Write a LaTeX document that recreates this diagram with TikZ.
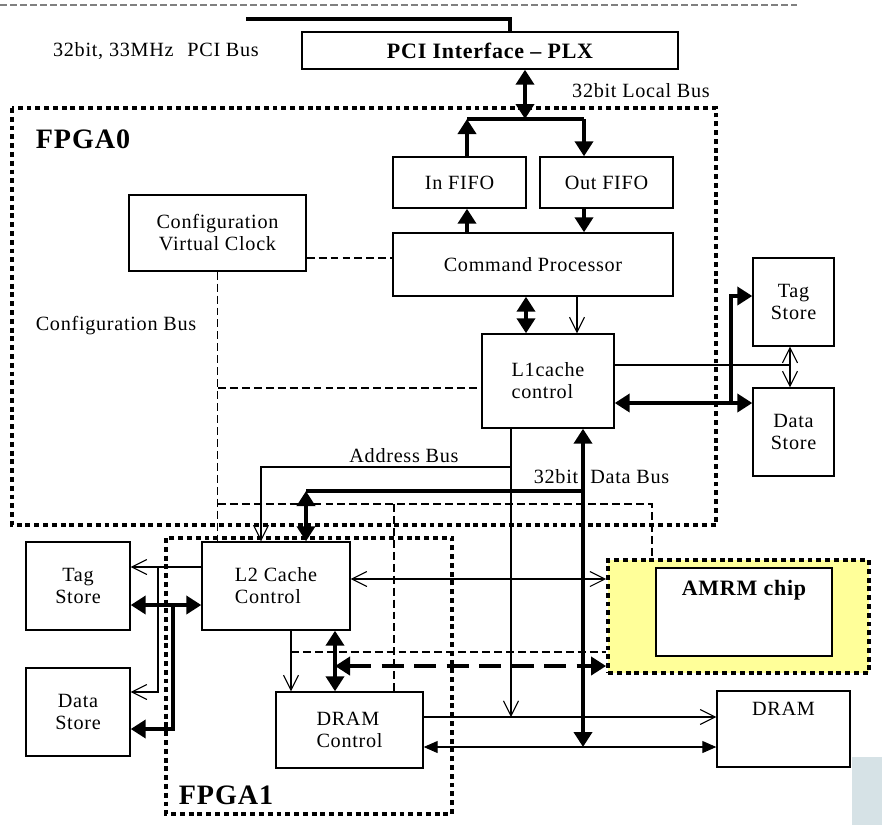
\documentclass[tikz,border=0pt]{standalone}
\usepackage{fontspec}
\setmainfont{Liberation Serif}[LetterSpace=3.5]
\usetikzlibrary{arrows.meta,calc}
\definecolor{amrmyellow}{RGB}{255,255,153}
\definecolor{scanpatch}{RGB}{214,226,230}
\tikzset{
  tri/.tip={Triangle[length=0.3cm,width=0.36cm]},
  barb/.tip={Straight Barb[length=0.3cm,width=0.3cm]},
  stri/.tip={Triangle[length=0.28cm,width=0.24cm]}
}
\begin{document}
\begin{tikzpicture}[x=0.02cm, y=-0.02cm,
  font=\fontsize{11.5}{12.5}\selectfont,
  box/.style={draw, line width=0.8pt, align=center, inner sep=1pt},
  wire/.style={line width=0.6pt},
  cfg/.style={line width=0.6pt, dash pattern=on 4.5pt off 2.3pt},
  bus/.style={line width=2.2pt},
  dashbus/.style={line width=2.2pt, dash pattern=on 12.5pt off 6pt},
  fpga/.style={line width=2.2pt, dash pattern=on 2.8pt off 2.2pt}]
\useasboundingbox (0,0) rectangle (882,826);

\draw[gray, line width=0.6pt, dash pattern=on 4pt off 1.7pt] (0,5) -- (797,5);
\fill[scanpatch] (852,757) rectangle (882,825);

\draw[fpga] (12,108) rectangle (716,525);
\draw[fpga] (166,538) rectangle (452,814);
\node[font=\bfseries\fontsize{16}{16}\selectfont] (fpga0) at (83,139) {FPGA0};
\node[font=\bfseries\fontsize{16}{16}\selectfont] (fpga1) at (226,795) {FPGA1};

\node[box, minimum width=7.52cm, minimum height=0.74cm, font=\bfseries\fontsize{12.5}{13}\selectfont] (pci) at (490,50.5) {PCI Interface -- PLX};
\node[box, minimum width=2.66cm, minimum height=1.02cm] (infifo) at (459.5,182.5) {In FIFO};
\node[box, minimum width=2.66cm, minimum height=1.02cm] (outfifo) at (606.5,182.5) {Out FIFO};
\node[box, minimum width=5.6cm, minimum height=1.26cm] (cmdproc) at (533,264.5) {Command Processor};
\node[box, minimum width=3.54cm, minimum height=1.52cm] (cvc) at (217.5,233) {Configuration\\ Virtual Clock};
\node[box, minimum width=2.64cm, minimum height=1.88cm, align=left] (l1) at (548,381) {L1cache\\ control};
\node[box, minimum width=1.62cm, minimum height=1.76cm] (tag0) at (793.5,302) {Tag\\ Store};
\node[box, minimum width=1.62cm, minimum height=1.76cm] (data0) at (793.5,432) {Data\\ Store};
\node[box, minimum width=2.96cm, minimum height=1.76cm, align=left] (l2) at (276,586) {L2 Cache\\ Control};
\node[box, minimum width=2.08cm, minimum height=1.76cm] (tag1) at (78,586) {Tag\\ Store};
\node[box, minimum width=2.08cm, minimum height=1.76cm] (data1) at (78,712) {Data\\ Store};
\node[box, minimum width=2.94cm, minimum height=1.52cm, align=left] (dramctl) at (349.5,730) {DRAM\\ Control};
\node[box, minimum width=2.66cm, minimum height=1.52cm, label={[anchor=north, yshift=-0.12cm]north:DRAM}] (dram) at (783.5,729) {};
\node[fpga, draw, fill=amrmyellow, minimum width=5.22cm, minimum height=2.26cm] (amrm) at (738.5,616.5) {};
\node[box, fill=white, minimum width=3.52cm, minimum height=1.76cm, label={[anchor=north, yshift=-0.13cm, font=\bfseries\fontsize{12.5}{13}\selectfont]north:AMRM chip}] (amrmchip) at (744,612) {};

\node (pcitext) at (156,51) {32bit, 33MHz\hspace{0.4em} PCI Bus};
\node (lbustext) at (641,91) {32bit Local Bus};
\node (cfgtext) at (116,326) {Configuration Bus};
\node (abustext) at (404,456) {Address Bus};
\node (dbustext) at (601.5,477) {32bit\hspace{0.6em}Data Bus};

\coordinate (pcibus) at (246,19);
\coordinate (pcitap) at (510,19);
\draw[bus] (pcibus) -- (pcitap) -- (pcitap |- pci.north);

\coordinate (lbus) at (525,119);
\coordinate (lbusL) at (467,119);
\coordinate (lbusR) at (584,119);
\draw[bus] (lbusL) -- (lbusR);
\draw[bus, tri-tri] (lbus |- pci.south) -- (lbus);
\draw[bus, -tri] (lbusL |- infifo.north) -- (lbusL);
\draw[bus, -tri] (lbusR) -- (lbusR |- outfifo.north);
\draw[bus, -tri] (lbusL |- cmdproc.north) -- (lbusL |- infifo.south);
\draw[bus, -tri] (lbusR |- outfifo.south) -- (lbusR |- cmdproc.north);

\coordinate (cpl1) at (526,315);
\coordinate (cpl1b) at (577,315);
\draw[bus, tri-tri] (cpl1 |- cmdproc.south) -- (cpl1 |- l1.north);
\draw[wire, -barb] (cpl1b |- cmdproc.south) -- (cpl1b |- l1.north);

\coordinate (l1td) at (790,365);
\coordinate (l1dd) at (731,403);
\draw[wire] (l1td -| l1.east) -- (l1td);
\draw[wire, barb-barb] (l1td |- tag0.south) -- (l1td |- data0.north);
\draw[bus, tri-tri] (l1dd -| l1.east) -- (l1dd -| data0.west);
\draw[bus, -tri] (l1dd) |- ([yshift=0.12cm]tag0.west);

\coordinate (cfgclk) at (350,258);
\coordinate (cfgl1) at (218,388);
\coordinate (cfgbus) at (218,504);
\coordinate (cfgamrm) at (652,504);
\coordinate (cfgdram) at (394,504);
\draw[cfg] (cfgclk -| cvc.east) -- (cfgclk -| cmdproc.west);
\draw[cfg] (cvc.south) -- (cvc.south |- l2.north);
\draw[cfg] (cfgl1) -- (cfgl1 -| l1.west);
\draw[cfg] (cfgbus) -- (cfgamrm) -- (cfgamrm |- amrm.north);
\draw[cfg] (cfgdram) -- (cfgdram |- dramctl.north);

\coordinate (abus) at (511,467);
\coordinate (abusL) at (261,467);
\coordinate (ctrlwire) at (511,717);
\draw[wire, -barb] (abus |- l1.south) |- (abusL) -- (abusL |- l2.north);
\draw[wire, -barb] (abus) -- (ctrlwire);
\draw[wire, -barb] (ctrlwire -| dramctl.east) -- (ctrlwire -| dram.west);

\coordinate (dbus) at (583,491);
\coordinate (dbusL) at (306,491);
\coordinate (dramdata) at (583,747);
\draw[bus] (dbusL) -- (dbus);
\draw[bus, -tri] (dbus) -- (dbus |- l1.south);
\draw[bus, -tri] (dbus) -- (dramdata);
\draw[bus, tri-tri] (dbusL) -- (dbusL |- l2.north);
\draw[wire, stri-stri] (dramdata -| dramctl.east) -- (dramdata -| dram.west);

\coordinate (l2amrm) at (480,579);
\coordinate (l2dc) at (291,652);
\coordinate (l2dd) at (335,666);
\draw[wire, barb-barb] (l2amrm -| l2.east) -- (l2amrm -| amrm.west);
\draw[wire, -barb] (l2dc |- l2.south) -- (l2dc |- dramctl.north);
\draw[cfg] (l2dc) -- (l2dc -| amrm.west);
\draw[bus, tri-tri] (l2dd |- l2.south) -- (l2dd |- dramctl.north);
\draw[dashbus, tri-tri] (l2dd) -- (l2dd -| amrm.west);

\coordinate (l2tag) at (158,567);
\coordinate (l2data) at (158,692);
\coordinate (l2tagb) at (173,605);
\coordinate (l2datab) at (173,729);
\draw[wire, -barb] (l2tag -| l2.west) -- (l2tag -| tag1.east);
\draw[wire, -barb] (l2tag) -- (l2data) -- (l2data -| data1.east);
\draw[bus, tri-tri] (l2tagb -| tag1.east) -- (l2tagb -| l2.west);
\draw[bus, -tri] (l2tagb) -- (l2datab) -- (l2datab -| data1.east);
\end{tikzpicture}
\end{document}
